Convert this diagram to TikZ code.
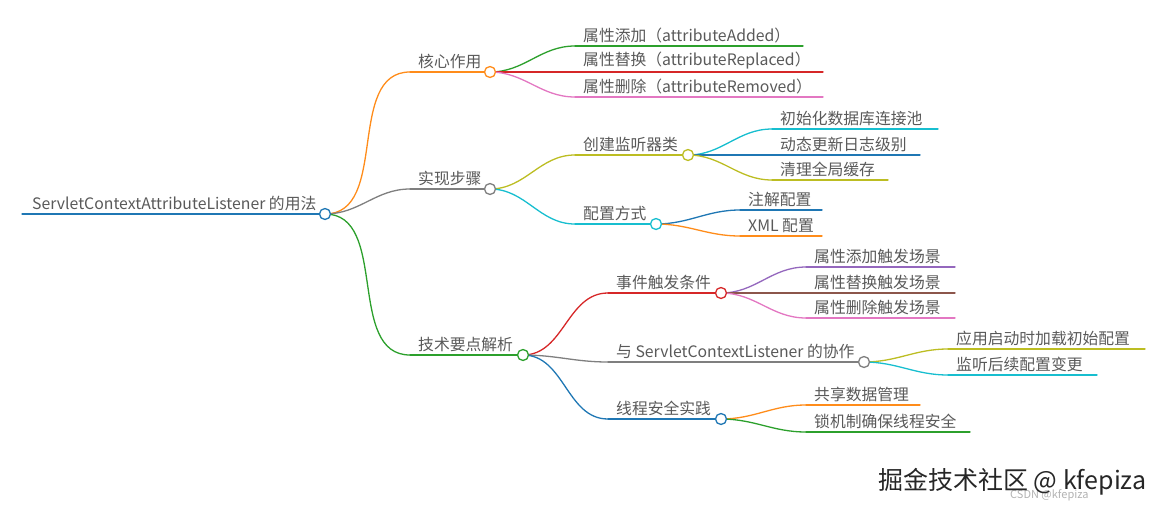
\documentclass[tikz,border=0pt]{standalone}
\usepackage{fontspec}
\setmainfont{Noto Sans CJK SC}
\begin{document}
\begin{tikzpicture}[x=1pt,y=-1pt,
  lbl/.style={anchor=south west,inner sep=0pt,font=\fontsize{15.8}{18}\selectfont,text=black!65,yshift=3pt},
  dot/.style={circle,draw=#1,fill=white,line width=1.3pt,minimum size=11pt,inner sep=0pt},
  br/.style={line width=1.3pt,draw=#1},
  every path/.style={line cap=round}]
\useasboundingbox (0,0) rectangle (1167,514);
\definecolor{cB}{HTML}{1F77B4}\definecolor{cO}{HTML}{FF8C1A}\definecolor{cG}{HTML}{2CA02C}
\definecolor{cR}{HTML}{D62728}\definecolor{cP}{HTML}{E377C2}\definecolor{cGr}{HTML}{7F7F7F}
\definecolor{cY}{HTML}{BCBD22}\definecolor{cC}{HTML}{17BECF}\definecolor{cV}{HTML}{9467BD}
\definecolor{cBr}{HTML}{8C564B}
\newcommand{\mmnode}[6]{%
  \coordinate (#1s) at (#3,#5);
  \node[lbl] (#1t) at (#3+8,#5) {#6};
  \draw[br=#2] (#1s) -- (#4,#5);}
\newcommand{\link}[3]{%
  \draw[br=#3] (#1.center) to[out=0,in=180] (#2);}
% root
\coordinate (rs) at (22,214);
\node[lbl] (rt) at (32,214) {ServletContextAttributeListener 的用法};
\draw[br=cB] (rs) -- (325,214);
% level 1
\mmnode{a}{cO}{410}{490}{72}{核心作用}
\mmnode{b}{cGr}{410}{490}{189}{实现步骤}
\mmnode{c}{cG}{410}{523}{355}{技术要点解析}
% level 2
\mmnode{a1}{cG}{575}{803}{46}{属性添加（attributeAdded）}
\mmnode{a2}{cR}{575}{823}{72}{属性替换（attributeReplaced）}
\mmnode{a3}{cP}{575}{823}{97}{属性删除（attributeRemoved）}
\mmnode{b1}{cY}{575}{688}{155}{创建监听器类}
\mmnode{b2}{cC}{575}{656}{224}{配置方式}
\mmnode{c1}{cR}{608}{721}{293}{事件触发条件}
\mmnode{c2}{cGr}{608}{864}{362}{与 ServletContextListener 的协作}
\mmnode{c3}{cB}{608}{721}{419}{线程安全实践}
% level 3
\mmnode{b11}{cC}{772}{938}{129}{初始化数据库连接池}
\mmnode{b12}{cB}{772}{920}{155}{动态更新日志级别}
\mmnode{b13}{cY}{772}{888}{180}{清理全局缓存}
\mmnode{b21}{cB}{740}{822}{210}{注解配置}
\mmnode{b22}{cO}{740}{822}{236}{XML 配置}
\mmnode{c11}{cV}{806}{955}{267}{属性添加触发场景}
\mmnode{c12}{cBr}{806}{955}{293}{属性替换触发场景}
\mmnode{c13}{cP}{806}{955}{318}{属性删除触发场景}
\mmnode{c21}{cY}{948}{1145}{349}{应用启动时加载初始配置}
\mmnode{c22}{cC}{948}{1097}{375}{监听后续配置变更}
\mmnode{c31}{cO}{806}{920}{405}{共享数据管理}
\mmnode{c32}{cG}{806}{970}{432}{锁机制确保线程安全}
% circle positions
\coordinate (r) at (325,214);
\coordinate (a) at (490,72);
\coordinate (b) at (490,189);
\coordinate (c) at (523,355);
\coordinate (b1) at (688,155);
\coordinate (b2) at (656,224);
\coordinate (c1) at (721,293);
\coordinate (c2) at (864,362);
\coordinate (c3) at (721,419);
% links
\link{r}{as}{cO}\link{r}{bs}{cGr}\link{r}{cs}{cG}
\link{a}{a1s}{cG}\link{a}{a2s}{cR}\link{a}{a3s}{cP}
\link{b}{b1s}{cY}\link{b}{b2s}{cC}
\link{c}{c1s}{cR}\link{c}{c2s}{cGr}\link{c}{c3s}{cB}
\link{b1}{b11s}{cC}\link{b1}{b12s}{cB}\link{b1}{b13s}{cY}
\link{b2}{b21s}{cB}\link{b2}{b22s}{cO}
\link{c1}{c11s}{cV}\link{c1}{c12s}{cBr}\link{c1}{c13s}{cP}
\link{c2}{c21s}{cY}\link{c2}{c22s}{cC}
\link{c3}{c31s}{cO}\link{c3}{c32s}{cG}
% circles on top
\foreach \n/\c in {r/cB,a/cO,b/cGr,c/cG,b1/cY,b2/cC,c1/cR,c2/cGr,c3/cB}
  \node[dot=\c] (\n dot) at (\n) {};
% watermark
\node[anchor=west,inner sep=0pt,font=\fontsize{11}{13}\selectfont,text=black!30] (wm2) at (1010,495) {CSDN @kfepiza};
\node[anchor=west,inner sep=0pt,font=\fontsize{25}{29}\selectfont,text=black!85] (wm) at (878,482) {掘金技术社区 @ kfepiza};
\end{tikzpicture}
\end{document}
